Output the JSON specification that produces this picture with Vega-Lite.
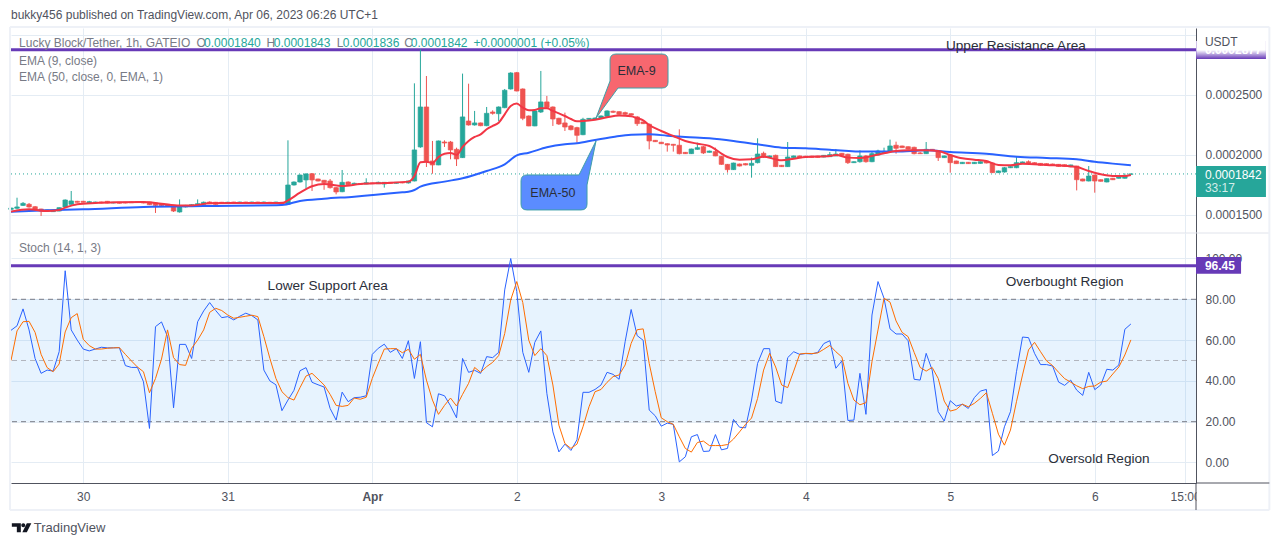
{
  "$schema": "https://vega.github.io/schema/vega-lite/v6.json",
  "background": "white",
  "padding": {"left": 7, "top": 8, "right": 2, "bottom": 2},
  "bounds": "flush",
  "spacing": 0,
  "config": {
    "view": {"stroke": null},
    "font": "Liberation Sans",
    "axis": {"title": null, "ticks": false, "labelFont": "Liberation Sans", "labelFontSize": 12, "labelColor": "#50535e", "gridColor": "#e4ecf4", "gridWidth": 1, "labelOverlap": false, "labelBound": false, "labelFlush": false}
  },
  "datasets": {
    "bars": [
      {"t":"2023-03-29T12:00Z","o":0.0001547,"h":0.000156,"l":0.0001545,"c":0.0001558,"k":64.8,"d":50},
      {"t":"2023-03-29T13:00Z","o":0.0001556,"h":0.0001644,"l":0.0001547,"c":0.0001567,"k":67,"d":64.5},
      {"t":"2023-03-29T14:00Z","o":0.000158,"h":0.0001608,"l":0.0001575,"c":0.0001597,"k":75.3,"d":69},
      {"t":"2023-03-29T15:00Z","o":0.0001589,"h":0.00016,"l":0.0001561,"c":0.0001567,"k":65,"d":69.2},
      {"t":"2023-03-29T16:00Z","o":0.0001569,"h":0.0001575,"l":0.000154,"c":0.0001544,"k":51,"d":63.8},
      {"t":"2023-03-29T17:00Z","o":0.000155,"h":0.0001552,"l":0.0001492,"c":0.0001533,"k":43.7,"d":53},
      {"t":"2023-03-29T18:00Z","o":0.0001531,"h":0.0001545,"l":0.0001525,"c":0.0001542,"k":45.3,"d":46.5},
      {"t":"2023-03-29T19:00Z","o":0.0001528,"h":0.0001542,"l":0.0001525,"c":0.0001539,"k":44.8,"d":44.5},
      {"t":"2023-03-29T20:00Z","o":0.0001533,"h":0.0001564,"l":0.000153,"c":0.0001561,"k":54.3,"d":48.3},
      {"t":"2023-03-29T21:00Z","o":0.0001567,"h":0.000163,"l":0.0001565,"c":0.0001625,"k":94,"d":64},
      {"t":"2023-03-29T22:00Z","o":0.0001589,"h":0.00017,"l":0.0001585,"c":0.0001617,"k":65,"d":71},
      {"t":"2023-03-29T23:00Z","o":0.0001614,"h":0.0001618,"l":0.0001603,"c":0.0001606,"k":60,"d":73},
      {"t":"2023-03-30T00:00Z","o":0.0001614,"h":0.0001618,"l":0.0001603,"c":0.0001606,"k":55.6,"d":60.4},
      {"t":"2023-03-30T01:00Z","o":0.0001597,"h":0.0001618,"l":0.0001592,"c":0.0001611,"k":54.7,"d":57.3},
      {"t":"2023-03-30T02:00Z","o":0.00016,"h":0.0001612,"l":0.0001597,"c":0.0001608,"k":55.6,"d":55.6},
      {"t":"2023-03-30T03:00Z","o":0.0001608,"h":0.0001611,"l":0.0001597,"c":0.00016,"k":56.5,"d":55.6},
      {"t":"2023-03-30T04:00Z","o":0.0001614,"h":0.0001617,"l":0.0001597,"c":0.00016,"k":56.2,"d":56},
      {"t":"2023-03-30T05:00Z","o":0.00016,"h":0.0001609,"l":0.0001597,"c":0.0001606,"k":56.2,"d":56.2},
      {"t":"2023-03-30T06:00Z","o":0.0001606,"h":0.0001609,"l":0.0001595,"c":0.0001598,"k":56.3,"d":56.3},
      {"t":"2023-03-30T07:00Z","o":0.0001606,"h":0.0001609,"l":0.0001597,"c":0.00016,"k":47.5,"d":53},
      {"t":"2023-03-30T08:00Z","o":0.0001608,"h":0.000161,"l":0.00016,"c":0.0001602,"k":46.6,"d":49.8},
      {"t":"2023-03-30T09:00Z","o":0.000161,"h":0.0001612,"l":0.0001601,"c":0.0001604,"k":46.6,"d":46.8},
      {"t":"2023-03-30T10:00Z","o":0.0001608,"h":0.000161,"l":0.0001597,"c":0.00016,"k":39.6,"d":44.5},
      {"t":"2023-03-30T11:00Z","o":0.0001608,"h":0.000161,"l":0.0001583,"c":0.0001586,"k":16.7,"d":34.2},
      {"t":"2023-03-30T12:00Z","o":0.00016,"h":0.0001605,"l":0.0001517,"c":0.000158,"k":66.6,"d":41.2},
      {"t":"2023-03-30T13:00Z","o":0.0001594,"h":0.0001597,"l":0.0001575,"c":0.0001578,"k":68.9,"d":50.7},
      {"t":"2023-03-30T14:00Z","o":0.0001589,"h":0.0001592,"l":0.000157,"c":0.0001572,"k":61.7,"d":65},
      {"t":"2023-03-30T15:00Z","o":0.000158,"h":0.0001583,"l":0.0001525,"c":0.0001533,"k":26.8,"d":51.4},
      {"t":"2023-03-30T16:00Z","o":0.0001525,"h":0.000163,"l":0.000152,"c":0.0001567,"k":57.9,"d":48},
      {"t":"2023-03-30T17:00Z","o":0.0001567,"h":0.0001584,"l":0.0001563,"c":0.000158,"k":57.9,"d":47.6},
      {"t":"2023-03-30T18:00Z","o":0.0001578,"h":0.000159,"l":0.0001575,"c":0.0001586,"k":51,"d":56},
      {"t":"2023-03-30T19:00Z","o":0.0001583,"h":0.000163,"l":0.000158,"c":0.0001594,"k":69,"d":60},
      {"t":"2023-03-30T20:00Z","o":0.0001589,"h":0.0001612,"l":0.0001586,"c":0.0001606,"k":74.3,"d":65},
      {"t":"2023-03-30T21:00Z","o":0.0001608,"h":0.0001614,"l":0.0001591,"c":0.0001594,"k":78.4,"d":73.6},
      {"t":"2023-03-30T22:00Z","o":0.0001606,"h":0.0001609,"l":0.0001586,"c":0.0001589,"k":74.5,"d":75.6},
      {"t":"2023-03-30T23:00Z","o":0.0001606,"h":0.0001609,"l":0.0001594,"c":0.0001597,"k":71,"d":74.5},
      {"t":"2023-03-31T00:00Z","o":0.00016,"h":0.000161,"l":0.0001597,"c":0.0001606,"k":71.5,"d":72.3},
      {"t":"2023-03-31T01:00Z","o":0.0001608,"h":0.000161,"l":0.0001597,"c":0.00016,"k":69.9,"d":70.7},
      {"t":"2023-03-31T02:00Z","o":0.00016,"h":0.0001611,"l":0.0001598,"c":0.0001608,"k":71.7,"d":71.2},
      {"t":"2023-03-31T03:00Z","o":0.0001608,"h":0.000161,"l":0.0001598,"c":0.0001601,"k":73.2,"d":71.7},
      {"t":"2023-03-31T04:00Z","o":0.0001601,"h":0.0001611,"l":0.0001598,"c":0.0001608,"k":72,"d":72.2},
      {"t":"2023-03-31T05:00Z","o":0.0001608,"h":0.000161,"l":0.0001597,"c":0.00016,"k":69.9,"d":71.5},
      {"t":"2023-03-31T06:00Z","o":0.00016,"h":0.0001612,"l":0.0001598,"c":0.0001608,"k":45.3,"d":61.7},
      {"t":"2023-03-31T07:00Z","o":0.0001606,"h":0.0001609,"l":0.0001597,"c":0.00016,"k":40,"d":51},
      {"t":"2023-03-31T08:00Z","o":0.0001601,"h":0.000161,"l":0.0001597,"c":0.0001608,"k":38.1,"d":41.2},
      {"t":"2023-03-31T09:00Z","o":0.0001606,"h":0.0001609,"l":0.0001586,"c":0.0001589,"k":25.4,"d":34.7},
      {"t":"2023-03-31T10:00Z","o":0.0001589,"h":0.0002122,"l":0.0001583,"c":0.000175,"k":30.6,"d":31.8},
      {"t":"2023-03-31T11:00Z","o":0.000175,"h":0.000178,"l":0.0001745,"c":0.0001775,"k":35.4,"d":30.6},
      {"t":"2023-03-31T12:00Z","o":0.0001775,"h":0.0001837,"l":0.000177,"c":0.0001833,"k":45,"d":36.7},
      {"t":"2023-03-31T13:00Z","o":0.0001792,"h":0.0001848,"l":0.0001719,"c":0.0001842,"k":46.5,"d":42.4},
      {"t":"2023-03-31T14:00Z","o":0.0001844,"h":0.000185,"l":0.00017,"c":0.0001792,"k":39.3,"d":43.7},
      {"t":"2023-03-31T15:00Z","o":0.00018,"h":0.0001803,"l":0.000178,"c":0.0001783,"k":38.1,"d":40.9},
      {"t":"2023-03-31T16:00Z","o":0.0001789,"h":0.0001792,"l":0.000171,"c":0.0001769,"k":37,"d":38},
      {"t":"2023-03-31T17:00Z","o":0.0001783,"h":0.00018,"l":0.000172,"c":0.0001728,"k":26.5,"d":33.4},
      {"t":"2023-03-31T18:00Z","o":0.0001728,"h":0.0001733,"l":0.0001672,"c":0.0001692,"k":20.8,"d":28},
      {"t":"2023-03-31T19:00Z","o":0.0001694,"h":0.0001875,"l":0.000169,"c":0.0001772,"k":34.5,"d":27.5},
      {"t":"2023-03-31T20:00Z","o":0.0001775,"h":0.000178,"l":0.000175,"c":0.0001753,"k":29.8,"d":28},
      {"t":"2023-03-31T21:00Z","o":0.0001756,"h":0.000177,"l":0.000175,"c":0.0001764,"k":31.8,"d":31.6},
      {"t":"2023-03-31T22:00Z","o":0.0001762,"h":0.0001765,"l":0.0001753,"c":0.0001756,"k":32,"d":31},
      {"t":"2023-03-31T23:00Z","o":0.0001758,"h":0.0001806,"l":0.0001756,"c":0.0001769,"k":32.7,"d":32},
      {"t":"2023-04-01T00:00Z","o":0.0001767,"h":0.000177,"l":0.0001758,"c":0.0001761,"k":53,"d":41.2},
      {"t":"2023-04-01T01:00Z","o":0.0001761,"h":0.0001778,"l":0.0001758,"c":0.0001772,"k":56,"d":48.6},
      {"t":"2023-04-01T02:00Z","o":0.0001758,"h":0.0001775,"l":0.0001728,"c":0.0001772,"k":58,"d":55.6},
      {"t":"2023-04-01T03:00Z","o":0.0001772,"h":0.0001775,"l":0.0001761,"c":0.0001764,"k":54,"d":55.8},
      {"t":"2023-04-01T04:00Z","o":0.0001764,"h":0.0001775,"l":0.0001761,"c":0.0001772,"k":55.8,"d":55.8},
      {"t":"2023-04-01T05:00Z","o":0.0001772,"h":0.0001775,"l":0.0001764,"c":0.0001767,"k":51,"d":53.8},
      {"t":"2023-04-01T06:00Z","o":0.0001767,"h":0.0001786,"l":0.0001762,"c":0.0001783,"k":59.7,"d":55.5},
      {"t":"2023-04-01T07:00Z","o":0.0001783,"h":0.0002597,"l":0.000178,"c":0.0002042,"k":41.2,"d":50.6},
      {"t":"2023-04-01T08:00Z","o":0.0002067,"h":0.000288,"l":0.000206,"c":0.00024,"k":59.2,"d":53},
      {"t":"2023-04-01T09:00Z","o":0.00024,"h":0.0002658,"l":0.00019,"c":0.0001944,"k":19.5,"d":40.4},
      {"t":"2023-04-01T10:00Z","o":0.000195,"h":0.0002117,"l":0.0001844,"c":0.0001917,"k":17.5,"d":30.6},
      {"t":"2023-04-01T11:00Z","o":0.0001917,"h":0.000212,"l":0.0001915,"c":0.0002117,"k":33.7,"d":23.6},
      {"t":"2023-04-01T12:00Z","o":0.0002108,"h":0.0002122,"l":0.0002067,"c":0.00021,"k":32.7,"d":28},
      {"t":"2023-04-01T13:00Z","o":0.0002108,"h":0.0002117,"l":0.0001964,"c":0.0002042,"k":27.8,"d":31.6},
      {"t":"2023-04-01T14:00Z","o":0.0002047,"h":0.0002061,"l":0.0001908,"c":0.0001967,"k":21.9,"d":27.7},
      {"t":"2023-04-01T15:00Z","o":0.0001978,"h":0.0002678,"l":0.0001975,"c":0.0002317,"k":51,"d":33.4},
      {"t":"2023-04-01T16:00Z","o":0.0002283,"h":0.0002594,"l":0.0002245,"c":0.000225,"k":44.2,"d":38.8},
      {"t":"2023-04-01T17:00Z","o":0.000225,"h":0.0002367,"l":0.0002245,"c":0.0002267,"k":45.2,"d":46.6},
      {"t":"2023-04-01T18:00Z","o":0.0002267,"h":0.000227,"l":0.000224,"c":0.0002244,"k":43.7,"d":44.2},
      {"t":"2023-04-01T19:00Z","o":0.0002244,"h":0.00024,"l":0.000224,"c":0.0002347,"k":51.9,"d":47},
      {"t":"2023-04-01T20:00Z","o":0.0002358,"h":0.0002372,"l":0.0002336,"c":0.0002347,"k":51.4,"d":49.1},
      {"t":"2023-04-01T21:00Z","o":0.0002344,"h":0.0002405,"l":0.0002283,"c":0.00024,"k":54,"d":52.4},
      {"t":"2023-04-01T22:00Z","o":0.0002394,"h":0.000255,"l":0.000239,"c":0.0002539,"k":84.6,"d":63.2},
      {"t":"2023-04-01T23:00Z","o":0.000255,"h":0.000269,"l":0.0002545,"c":0.0002683,"k":100,"d":79.7},
      {"t":"2023-04-02T00:00Z","o":0.0002686,"h":0.0002692,"l":0.000253,"c":0.0002533,"k":83.8,"d":88.7},
      {"t":"2023-04-02T01:00Z","o":0.000255,"h":0.0002555,"l":0.000229,"c":0.0002306,"k":54,"d":78.4},
      {"t":"2023-04-02T02:00Z","o":0.0002325,"h":0.000233,"l":0.000224,"c":0.0002242,"k":44.2,"d":59.9},
      {"t":"2023-04-02T03:00Z","o":0.0002242,"h":0.0002372,"l":0.000224,"c":0.0002367,"k":58.9,"d":52.4},
      {"t":"2023-04-02T04:00Z","o":0.0002358,"h":0.00027,"l":0.000235,"c":0.0002442,"k":64.5,"d":55.8},
      {"t":"2023-04-02T05:00Z","o":0.0002442,"h":0.0002492,"l":0.0002385,"c":0.0002394,"k":33.9,"d":52.4},
      {"t":"2023-04-02T06:00Z","o":0.00024,"h":0.0002405,"l":0.0002242,"c":0.00023,"k":15,"d":38},
      {"t":"2023-04-02T07:00Z","o":0.0002306,"h":0.000231,"l":0.000225,"c":0.0002258,"k":5.2,"d":18.3},
      {"t":"2023-04-02T08:00Z","o":0.0002267,"h":0.0002353,"l":0.00022,"c":0.0002233,"k":9,"d":9.3},
      {"t":"2023-04-02T09:00Z","o":0.0002242,"h":0.000225,"l":0.0002205,"c":0.0002211,"k":5.9,"d":6.9},
      {"t":"2023-04-02T10:00Z","o":0.0002228,"h":0.0002235,"l":0.0002103,"c":0.0002164,"k":11.1,"d":9},
      {"t":"2023-04-02T11:00Z","o":0.0002169,"h":0.000231,"l":0.0002165,"c":0.0002297,"k":34.4,"d":17.5},
      {"t":"2023-04-02T12:00Z","o":0.0002297,"h":0.0002308,"l":0.000229,"c":0.0002305,"k":34.4,"d":27.3},
      {"t":"2023-04-02T13:00Z","o":0.00023,"h":0.0002312,"l":0.0002295,"c":0.0002308,"k":35.8,"d":34.7},
      {"t":"2023-04-02T14:00Z","o":0.0002306,"h":0.000233,"l":0.00023,"c":0.0002325,"k":38,"d":35.8},
      {"t":"2023-04-02T15:00Z","o":0.0002322,"h":0.0002372,"l":0.0002318,"c":0.0002367,"k":44.2,"d":39.3},
      {"t":"2023-04-02T16:00Z","o":0.0002364,"h":0.000237,"l":0.000235,"c":0.0002356,"k":43.2,"d":42.1},
      {"t":"2023-04-02T17:00Z","o":0.0002361,"h":0.0002364,"l":0.000233,"c":0.0002339,"k":40.8,"d":42.9},
      {"t":"2023-04-02T18:00Z","o":0.0002353,"h":0.0002361,"l":0.000233,"c":0.0002339,"k":59.2,"d":47.8},
      {"t":"2023-04-02T19:00Z","o":0.0002344,"h":0.0002347,"l":0.000233,"c":0.0002333,"k":75,"d":58.4},
      {"t":"2023-04-02T20:00Z","o":0.0002317,"h":0.0002325,"l":0.0002242,"c":0.0002261,"k":62.2,"d":65.1},
      {"t":"2023-04-02T21:00Z","o":0.0002275,"h":0.0002278,"l":0.0002258,"c":0.0002261,"k":59.9,"d":65.5},
      {"t":"2023-04-02T22:00Z","o":0.0002256,"h":0.0002262,"l":0.0002047,"c":0.0002117,"k":25.7,"d":48.6},
      {"t":"2023-04-02T23:00Z","o":0.0002122,"h":0.0002125,"l":0.0002108,"c":0.0002111,"k":22.9,"d":34.7},
      {"t":"2023-04-03T00:00Z","o":0.0002106,"h":0.0002109,"l":0.0002092,"c":0.0002094,"k":17.8,"d":21.9},
      {"t":"2023-04-03T01:00Z","o":0.0002094,"h":0.0002097,"l":0.0002028,"c":0.0002083,"k":19.3,"d":20},
      {"t":"2023-04-03T02:00Z","o":0.0002089,"h":0.0002092,"l":0.0002028,"c":0.0002081,"k":18.7,"d":18.7},
      {"t":"2023-04-03T03:00Z","o":0.0002081,"h":0.0002214,"l":0.0002005,"c":0.0002011,"k":0.3,"d":12.6},
      {"t":"2023-04-03T04:00Z","o":0.0002022,"h":0.0002025,"l":0.0002008,"c":0.0002011,"k":2.8,"d":6.9},
      {"t":"2023-04-03T05:00Z","o":0.0002011,"h":0.0002053,"l":0.0002008,"c":0.000205,"k":12.6,"d":5.1},
      {"t":"2023-04-03T06:00Z","o":0.0002047,"h":0.0002103,"l":0.0002044,"c":0.0002061,"k":13.7,"d":9.8},
      {"t":"2023-04-03T07:00Z","o":0.0002069,"h":0.0002075,"l":0.0002008,"c":0.0002017,"k":5.4,"d":10.5},
      {"t":"2023-04-03T08:00Z","o":0.0002022,"h":0.0002036,"l":0.000202,"c":0.0002033,"k":5.6,"d":8.3},
      {"t":"2023-04-03T09:00Z","o":0.0002028,"h":0.0002061,"l":0.000199,"c":0.0001992,"k":13.7,"d":8.3},
      {"t":"2023-04-03T10:00Z","o":0.0001989,"h":0.0001992,"l":0.0001918,"c":0.0001922,"k":6.2,"d":8.3},
      {"t":"2023-04-03T11:00Z","o":0.0001922,"h":0.0001925,"l":0.0001853,"c":0.0001878,"k":6.9,"d":8.8},
      {"t":"2023-04-03T12:00Z","o":0.0001878,"h":0.0001936,"l":0.0001875,"c":0.0001933,"k":21.1,"d":11.5},
      {"t":"2023-04-03T13:00Z","o":0.0001925,"h":0.0001928,"l":0.0001905,"c":0.0001908,"k":17.3,"d":15},
      {"t":"2023-04-03T14:00Z","o":0.0001928,"h":0.0001931,"l":0.0001914,"c":0.0001917,"k":17,"d":18.7},
      {"t":"2023-04-03T15:00Z","o":0.0001914,"h":0.0001978,"l":0.0001811,"c":0.0001931,"k":30.6,"d":21.8},
      {"t":"2023-04-03T16:00Z","o":0.0001936,"h":0.0002139,"l":0.000193,"c":0.0002008,"k":48.6,"d":31.4},
      {"t":"2023-04-03T17:00Z","o":0.0002014,"h":0.0002028,"l":0.0001975,"c":0.0001983,"k":55.8,"d":45.3},
      {"t":"2023-04-03T18:00Z","o":0.000198,"h":0.0001995,"l":0.0001977,"c":0.0001992,"k":55.8,"d":53.5},
      {"t":"2023-04-03T19:00Z","o":0.0001997,"h":0.0002003,"l":0.00019,"c":0.0001903,"k":30.1,"d":46.8},
      {"t":"2023-04-03T20:00Z","o":0.0001914,"h":0.0001917,"l":0.00019,"c":0.0001903,"k":29,"d":38},
      {"t":"2023-04-03T21:00Z","o":0.0001903,"h":0.0002108,"l":0.00019,"c":0.0001983,"k":51.4,"d":36.7},
      {"t":"2023-04-03T22:00Z","o":0.0001978,"h":0.0001995,"l":0.0001975,"c":0.0001992,"k":54.3,"d":44.8},
      {"t":"2023-04-03T23:00Z","o":0.0001992,"h":0.0001995,"l":0.0001975,"c":0.0001978,"k":53,"d":53.2},
      {"t":"2023-04-04T00:00Z","o":0.000199,"h":0.0001993,"l":0.0001977,"c":0.000198,"k":53.4,"d":53.5},
      {"t":"2023-04-04T01:00Z","o":0.000199,"h":0.0001993,"l":0.0001977,"c":0.000198,"k":53.2,"d":53.4},
      {"t":"2023-04-04T02:00Z","o":0.000199,"h":0.0001993,"l":0.0001977,"c":0.000198,"k":54,"d":53.7},
      {"t":"2023-04-04T03:00Z","o":0.0001983,"h":0.0002,"l":0.000198,"c":0.0001997,"k":58.3,"d":55.5},
      {"t":"2023-04-04T04:00Z","o":0.0001986,"h":0.0002025,"l":0.0001983,"c":0.0002003,"k":59.7,"d":57.4},
      {"t":"2023-04-04T05:00Z","o":0.0001992,"h":0.000205,"l":0.000199,"c":0.0002008,"k":46.2,"d":54.3},
      {"t":"2023-04-04T06:00Z","o":0.0002014,"h":0.0002017,"l":0.0001994,"c":0.0001997,"k":49.8,"d":51.7},
      {"t":"2023-04-04T07:00Z","o":0.0002006,"h":0.0002011,"l":0.0001925,"c":0.0001936,"k":20.6,"d":38.8},
      {"t":"2023-04-04T08:00Z","o":0.0001936,"h":0.0001947,"l":0.0001933,"c":0.0001944,"k":20.8,"d":30.6},
      {"t":"2023-04-04T09:00Z","o":0.0001944,"h":0.0002039,"l":0.0001936,"c":0.0001992,"k":43.7,"d":28.3},
      {"t":"2023-04-04T10:00Z","o":0.0001992,"h":0.0002,"l":0.0001936,"c":0.0001944,"k":23.6,"d":29.3},
      {"t":"2023-04-04T11:00Z","o":0.0001944,"h":0.0002025,"l":0.000194,"c":0.0002011,"k":72.3,"d":49.4},
      {"t":"2023-04-04T12:00Z","o":0.0002,"h":0.0002044,"l":0.0001995,"c":0.0002033,"k":88.7,"d":65},
      {"t":"2023-04-04T13:00Z","o":0.0002017,"h":0.0002061,"l":0.000201,"c":0.000203,"k":80.5,"d":80.5},
      {"t":"2023-04-04T14:00Z","o":0.0002028,"h":0.0002128,"l":0.0002022,"c":0.0002075,"k":65.5,"d":78.6},
      {"t":"2023-04-04T15:00Z","o":0.0002081,"h":0.0002111,"l":0.0002011,"c":0.0002056,"k":63,"d":69.4},
      {"t":"2023-04-04T16:00Z","o":0.0002075,"h":0.0002078,"l":0.0002058,"c":0.0002061,"k":63,"d":63.8},
      {"t":"2023-04-04T17:00Z","o":0.0002069,"h":0.0002072,"l":0.0002047,"c":0.000205,"k":59.7,"d":61.7},
      {"t":"2023-04-04T18:00Z","o":0.0002064,"h":0.0002069,"l":0.0002005,"c":0.0002011,"k":40.8,"d":54},
      {"t":"2023-04-04T19:00Z","o":0.0002017,"h":0.0002025,"l":0.0002008,"c":0.0002011,"k":40.4,"d":46.6},
      {"t":"2023-04-04T20:00Z","o":0.0002011,"h":0.0002108,"l":0.0002008,"c":0.0002047,"k":53.5,"d":44.8},
      {"t":"2023-04-04T21:00Z","o":0.0002047,"h":0.000205,"l":0.0002036,"c":0.0002039,"k":45.3,"d":46.6},
      {"t":"2023-04-04T22:00Z","o":0.0002033,"h":0.0002039,"l":0.000195,"c":0.0001978,"k":24.9,"d":41.2},
      {"t":"2023-04-04T23:00Z","o":0.0001978,"h":0.0001995,"l":0.0001975,"c":0.0001992,"k":20.3,"d":30.1},
      {"t":"2023-04-05T00:00Z","o":0.0002,"h":0.0002006,"l":0.0001853,"c":0.0001936,"k":30.3,"d":25.2},
      {"t":"2023-04-05T01:00Z","o":0.000195,"h":0.0001953,"l":0.0001925,"c":0.0001928,"k":27.7,"d":26},
      {"t":"2023-04-05T02:00Z","o":0.0001928,"h":0.0001942,"l":0.0001925,"c":0.0001939,"k":28.5,"d":28.6},
      {"t":"2023-04-05T03:00Z","o":0.0001939,"h":0.0001942,"l":0.0001925,"c":0.0001928,"k":26.5,"d":27.3},
      {"t":"2023-04-05T04:00Z","o":0.0001928,"h":0.0001942,"l":0.0001925,"c":0.0001939,"k":31.8,"d":29},
      {"t":"2023-04-05T05:00Z","o":0.000193,"h":0.0001947,"l":0.0001927,"c":0.0001944,"k":35,"d":31.4},
      {"t":"2023-04-05T06:00Z","o":0.0001949,"h":0.0001952,"l":0.000193,"c":0.0001933,"k":35.8,"d":34.2},
      {"t":"2023-04-05T07:00Z","o":0.0001933,"h":0.0001936,"l":0.000185,"c":0.0001853,"k":3.4,"d":24.1},
      {"t":"2023-04-05T08:00Z","o":0.0001853,"h":0.000187,"l":0.000185,"c":0.0001867,"k":5.6,"d":13.9},
      {"t":"2023-04-05T09:00Z","o":0.0001858,"h":0.00019,"l":0.0001853,"c":0.0001894,"k":17.5,"d":8.5},
      {"t":"2023-04-05T10:00Z","o":0.0001894,"h":0.0001906,"l":0.0001891,"c":0.0001903,"k":24.9,"d":15.9},
      {"t":"2023-04-05T11:00Z","o":0.0001894,"h":0.0001983,"l":0.000189,"c":0.0001936,"k":44.5,"d":29.8},
      {"t":"2023-04-05T12:00Z","o":0.0001928,"h":0.0001945,"l":0.0001925,"c":0.0001942,"k":61.5,"d":42.9},
      {"t":"2023-04-05T13:00Z","o":0.0001944,"h":0.0001955,"l":0.0001927,"c":0.000193,"k":61.2,"d":55.2},
      {"t":"2023-04-05T14:00Z","o":0.0001936,"h":0.0001939,"l":0.0001919,"c":0.0001922,"k":53.5,"d":58.9},
      {"t":"2023-04-05T15:00Z","o":0.000193,"h":0.0001933,"l":0.0001911,"c":0.0001914,"k":48,"d":54.3},
      {"t":"2023-04-05T16:00Z","o":0.0001928,"h":0.0001931,"l":0.0001911,"c":0.0001914,"k":48,"d":49.8},
      {"t":"2023-04-05T17:00Z","o":0.0001925,"h":0.0001928,"l":0.0001911,"c":0.0001914,"k":47.3,"d":47.5},
      {"t":"2023-04-05T18:00Z","o":0.0001922,"h":0.0001925,"l":0.0001902,"c":0.0001905,"k":39.4,"d":44.2},
      {"t":"2023-04-05T19:00Z","o":0.0001919,"h":0.0001922,"l":0.0001902,"c":0.0001905,"k":37.8,"d":41.1},
      {"t":"2023-04-05T20:00Z","o":0.0001903,"h":0.0001919,"l":0.00019,"c":0.0001917,"k":40.4,"d":39.4},
      {"t":"2023-04-05T21:00Z","o":0.0001908,"h":0.000191,"l":0.0001705,"c":0.0001794,"k":35.5,"d":37.6},
      {"t":"2023-04-05T22:00Z","o":0.00018,"h":0.0001803,"l":0.000178,"c":0.0001783,"k":32.9,"d":36.2},
      {"t":"2023-04-05T23:00Z","o":0.0001783,"h":0.0001908,"l":0.000178,"c":0.0001825,"k":44.2,"d":37.3},
      {"t":"2023-04-06T00:00Z","o":0.0001833,"h":0.0001836,"l":0.0001686,"c":0.0001783,"k":35.7,"d":37.5},
      {"t":"2023-04-06T01:00Z","o":0.0001794,"h":0.0001797,"l":0.0001778,"c":0.0001781,"k":38,"d":39.4},
      {"t":"2023-04-06T02:00Z","o":0.0001775,"h":0.0001806,"l":0.0001772,"c":0.0001803,"k":45.7,"d":39.9},
      {"t":"2023-04-06T03:00Z","o":0.0001806,"h":0.0001809,"l":0.0001791,"c":0.0001794,"k":45.3,"d":43.4},
      {"t":"2023-04-06T04:00Z","o":0.0001806,"h":0.000182,"l":0.0001803,"c":0.0001817,"k":47.8,"d":46.8},
      {"t":"2023-04-06T05:00Z","o":0.0001806,"h":0.0001847,"l":0.0001803,"c":0.0001828,"k":65.3,"d":52.7},
      {"t":"2023-04-06T06:00Z","o":0.000184,"h":0.0001843,"l":0.0001836,"c":0.0001842,"k":67.9,"d":60.1}
    ],
    "ema9": [
      {"t":"2023-03-29T12:00Z","v":0.0001528},{"t":"2023-03-29T15:00Z","v":0.0001547},{"t":"2023-03-29T18:00Z","v":0.0001533},{"t":"2023-03-29T20:00Z","v":0.0001542},{"t":"2023-03-29T21:00Z","v":0.0001561},{"t":"2023-03-29T23:00Z","v":0.0001589},
      {"t":"2023-03-30T02:00Z","v":0.00016},{"t":"2023-03-30T06:00Z","v":0.0001606},{"t":"2023-03-30T10:00Z","v":0.0001608},{"t":"2023-03-30T13:00Z","v":0.0001594},{"t":"2023-03-30T16:00Z","v":0.000158},{"t":"2023-03-30T18:00Z","v":0.000158},{"t":"2023-03-30T21:00Z","v":0.0001597},
      {"t":"2023-03-31T01:00Z","v":0.00016},{"t":"2023-03-31T09:00Z","v":0.00016},{"t":"2023-03-31T10:00Z","v":0.0001622},{"t":"2023-03-31T12:00Z","v":0.0001686},{"t":"2023-03-31T14:00Z","v":0.0001739},{"t":"2023-03-31T16:00Z","v":0.0001758},{"t":"2023-03-31T19:00Z","v":0.0001742},{"t":"2023-03-31T22:00Z","v":0.0001758},
      {"t":"2023-04-01T02:00Z","v":0.0001767},{"t":"2023-04-01T06:00Z","v":0.0001778},{"t":"2023-04-01T07:00Z","v":0.0001825},{"t":"2023-04-01T08:00Z","v":0.0001939},{"t":"2023-04-01T09:00Z","v":0.0001944},{"t":"2023-04-01T10:00Z","v":0.0001933},{"t":"2023-04-01T11:00Z","v":0.0001983},{"t":"2023-04-01T12:00Z","v":0.0002011},{"t":"2023-04-01T13:00Z","v":0.0002017},{"t":"2023-04-01T14:00Z","v":0.0002},{"t":"2023-04-01T15:00Z","v":0.0002067},{"t":"2023-04-01T16:00Z","v":0.0002117},{"t":"2023-04-01T17:00Z","v":0.000215},{"t":"2023-04-01T18:00Z","v":0.0002172},{"t":"2023-04-01T19:00Z","v":0.0002214},{"t":"2023-04-01T20:00Z","v":0.0002242},{"t":"2023-04-01T21:00Z","v":0.0002269},{"t":"2023-04-01T22:00Z","v":0.0002339},{"t":"2023-04-01T23:00Z","v":0.0002408},
      {"t":"2023-04-02T00:00Z","v":0.0002428},{"t":"2023-04-02T01:00Z","v":0.0002394},{"t":"2023-04-02T02:00Z","v":0.0002372},{"t":"2023-04-02T03:00Z","v":0.0002375},{"t":"2023-04-02T04:00Z","v":0.0002389},{"t":"2023-04-02T05:00Z","v":0.0002389},{"t":"2023-04-02T06:00Z","v":0.0002367},{"t":"2023-04-02T07:00Z","v":0.0002347},{"t":"2023-04-02T08:00Z","v":0.0002325},{"t":"2023-04-02T09:00Z","v":0.00023},{"t":"2023-04-02T10:00Z","v":0.0002281},{"t":"2023-04-02T11:00Z","v":0.0002283},{"t":"2023-04-02T13:00Z","v":0.0002294},{"t":"2023-04-02T15:00Z","v":0.0002314},{"t":"2023-04-02T17:00Z","v":0.0002328},{"t":"2023-04-02T19:00Z","v":0.0002322},{"t":"2023-04-02T20:00Z","v":0.0002306},{"t":"2023-04-02T21:00Z","v":0.0002289},{"t":"2023-04-02T22:00Z","v":0.000225},
      {"t":"2023-04-03T00:00Z","v":0.00022},{"t":"2023-04-03T02:00Z","v":0.0002158},{"t":"2023-04-03T04:00Z","v":0.0002117},{"t":"2023-04-03T06:00Z","v":0.0002094},{"t":"2023-04-03T08:00Z","v":0.0002075},{"t":"2023-04-03T09:00Z","v":0.0002047},{"t":"2023-04-03T10:00Z","v":0.0002011},{"t":"2023-04-03T11:00Z","v":0.0001983},{"t":"2023-04-03T13:00Z","v":0.0001961},{"t":"2023-04-03T15:00Z","v":0.0001964},{"t":"2023-04-03T17:00Z","v":0.0001986},{"t":"2023-04-03T19:00Z","v":0.0001964},{"t":"2023-04-03T20:00Z","v":0.0001956},{"t":"2023-04-03T22:00Z","v":0.0001969},
      {"t":"2023-04-04T00:00Z","v":0.0001983},{"t":"2023-04-04T04:00Z","v":0.0001992},{"t":"2023-04-04T05:00Z","v":0.0002},{"t":"2023-04-04T07:00Z","v":0.0001978},{"t":"2023-04-04T09:00Z","v":0.0001975},{"t":"2023-04-04T11:00Z","v":0.0001992},{"t":"2023-04-04T13:00Z","v":0.0002014},{"t":"2023-04-04T15:00Z","v":0.0002033},{"t":"2023-04-04T17:00Z","v":0.0002039},{"t":"2023-04-04T20:00Z","v":0.0002039},{"t":"2023-04-04T22:00Z","v":0.0002033},
      {"t":"2023-04-05T00:00Z","v":0.0002},{"t":"2023-04-05T02:00Z","v":0.0001972},{"t":"2023-04-05T04:00Z","v":0.0001961},{"t":"2023-04-05T06:00Z","v":0.000195},{"t":"2023-04-05T08:00Z","v":0.0001917},{"t":"2023-04-05T10:00Z","v":0.0001914},{"t":"2023-04-05T12:00Z","v":0.0001928},{"t":"2023-04-05T16:00Z","v":0.0001917},{"t":"2023-04-05T20:00Z","v":0.0001905},{"t":"2023-04-05T21:00Z","v":0.00019},{"t":"2023-04-05T23:00Z","v":0.0001867},
      {"t":"2023-04-06T01:00Z","v":0.0001839},{"t":"2023-04-06T03:00Z","v":0.0001825},{"t":"2023-04-06T05:00Z","v":0.0001825},{"t":"2023-04-06T06:00Z","v":0.0001833}
    ],
    "ema50": [
      {"t":"2023-03-29T12:00Z","v":0.0001528},{"t":"2023-03-29T18:00Z","v":0.0001539},{"t":"2023-03-30T00:00Z","v":0.0001547},{"t":"2023-03-30T10:00Z","v":0.0001567},{"t":"2023-03-30T20:00Z","v":0.0001575},{"t":"2023-03-31T09:00Z","v":0.0001583},{"t":"2023-03-31T12:00Z","v":0.0001617},{"t":"2023-03-31T16:00Z","v":0.0001636},{"t":"2023-03-31T21:00Z","v":0.0001653},
      {"t":"2023-04-01T05:00Z","v":0.0001689},{"t":"2023-04-01T06:00Z","v":0.0001694},{"t":"2023-04-01T07:00Z","v":0.0001708},{"t":"2023-04-01T08:00Z","v":0.0001736},{"t":"2023-04-01T12:00Z","v":0.0001778},{"t":"2023-04-01T15:00Z","v":0.0001806},{"t":"2023-04-01T19:00Z","v":0.0001867},{"t":"2023-04-01T22:00Z","v":0.0001922},
      {"t":"2023-04-02T00:00Z","v":0.0001997},{"t":"2023-04-02T02:00Z","v":0.0002019},{"t":"2023-04-02T05:00Z","v":0.0002064},{"t":"2023-04-02T08:00Z","v":0.0002089},{"t":"2023-04-02T10:00Z","v":0.0002097},{"t":"2023-04-02T13:00Z","v":0.0002125},{"t":"2023-04-02T16:00Z","v":0.000215},{"t":"2023-04-02T19:00Z","v":0.0002169},{"t":"2023-04-02T22:00Z","v":0.0002172},
      {"t":"2023-04-03T01:00Z","v":0.0002161},{"t":"2023-04-03T04:00Z","v":0.000215},{"t":"2023-04-03T08:00Z","v":0.0002139},{"t":"2023-04-03T12:00Z","v":0.0002117},{"t":"2023-04-03T16:00Z","v":0.0002089},{"t":"2023-04-03T20:00Z","v":0.0002061},
      {"t":"2023-04-04T00:00Z","v":0.0002056},{"t":"2023-04-04T04:00Z","v":0.0002044},{"t":"2023-04-04T10:00Z","v":0.0002028},{"t":"2023-04-04T15:00Z","v":0.0002028},{"t":"2023-04-04T20:00Z","v":0.0002039},
      {"t":"2023-04-05T00:00Z","v":0.0002025},{"t":"2023-04-05T06:00Z","v":0.0002011},{"t":"2023-04-05T11:00Z","v":0.0001986},{"t":"2023-04-05T16:00Z","v":0.0001975},{"t":"2023-04-05T21:00Z","v":0.0001964},
      {"t":"2023-04-06T00:00Z","v":0.0001944},{"t":"2023-04-06T03:00Z","v":0.0001928},{"t":"2023-04-06T06:00Z","v":0.0001914}
    ]
  },
  "vconcat": [
    {
      "width": 1185,
      "height": 205,
      "layer": [
        {
          "data": {"values": [{"level": 0.0001842}]},
          "mark": {"type": "rule", "color": "#26a69a", "strokeWidth": 1, "strokeDash": [1, 3]},
          "encoding": {
            "y": {"field": "level", "type": "quantitative", "scale": {"domain": [0.000135, 0.0003058], "zero": false, "nice": false},
              "axis": {"orient": "right", "values": [0.00015, 0.0002, 0.00025, 0.0003], "labelExpr": "datum.value > 0.00028 ? '' : format(datum.value, '.7f')", "labelPadding": 9, "domainColor": "#50535e", "grid": true}}
          }
        },
        {
          "data": {"values": [{"level": 0.0002877}]},
          "mark": {"type": "rule", "color": "#673ab7", "strokeWidth": 3},
          "encoding": {"y": {"field": "level", "type": "quantitative"}}
        },
        {
          "data": {"name": "bars"},
          "mark": {"type": "rule", "strokeWidth": 1},
          "encoding": {
            "x": {"field": "t", "type": "temporal", "scale": {"type": "utc", "domain": [1680091200000, 1680799740000], "padding": 0},
              "axis": {"values": [1680134400000, 1680220800000, 1680307200000, 1680393600000, 1680480000000, 1680566400000, 1680652800000, 1680739200000, 1680793200000], "labels": false, "domain": false, "grid": true}},
            "y": {"field": "l", "type": "quantitative"},
            "y2": {"field": "h"},
            "color": {"condition": {"test": "datum.c >= datum.o", "value": "#26a69a"}, "value": "#ef5350"}
          }
        },
        {
          "data": {"name": "bars"},
          "mark": {"type": "bar", "width": 4.5, "strokeWidth": 0.7},
          "encoding": {
            "x": {"field": "t", "type": "temporal"},
            "y": {"field": "o", "type": "quantitative"},
            "y2": {"field": "c"},
            "color": {"condition": {"test": "datum.c >= datum.o", "value": "#26a69a"}, "value": "#ef5350"},
            "stroke": {"condition": {"test": "datum.c >= datum.o", "value": "#26a69a"}, "value": "#ef5350"}
          }
        },
        {
          "data": {"name": "ema50"},
          "mark": {"type": "line", "color": "#2962ff", "strokeWidth": 2, "interpolate": "monotone"},
          "encoding": {"x": {"field": "t", "type": "temporal"}, "y": {"field": "v", "type": "quantitative"}}
        },
        {
          "data": {"name": "ema9"},
          "mark": {"type": "line", "color": "#f23645", "strokeWidth": 2, "interpolate": "monotone"},
          "encoding": {"x": {"field": "t", "type": "temporal"}, "y": {"field": "v", "type": "quantitative"}}
        },
        {
          "data": {"values": [{"t": "2023-04-02T13:10Z", "p": 0.0002308}]},
          "mark": {"type": "point", "shape": "M0 0 L14 -37 L14 -58 Q14 -64 20 -64 L66 -64 Q72 -64 72 -58 L72 -36 Q72 -30 66 -30 L22 -30 Z", "size": 4, "filled": true, "fill": "#f7676f", "fillOpacity": 1, "stroke": "#3f9fa8", "strokeWidth": 1},
          "encoding": {"x": {"field": "t", "type": "temporal"}, "y": {"field": "p", "type": "quantitative"}}
        },
        {
          "data": {"values": [{"t": "2023-04-02T13:10Z", "p": 0.0002117}]},
          "mark": {"type": "point", "shape": "M0 0 L-9 44 L-9 63 Q-9 69 -15 69 L-69 69 Q-75 69 -75 63 L-75 40 Q-75 34 -69 34 L-17 34 Z", "size": 4, "filled": true, "fill": "#5b8cff", "fillOpacity": 1, "stroke": "#3f9fa8", "strokeWidth": 1},
          "encoding": {"x": {"field": "t", "type": "temporal"}, "y": {"field": "p", "type": "quantitative"}}
        },
        {
          "data": {"values": [
            {"label": "EMA-9", "t": "2023-04-02T19:54Z", "p": 0.00027},
            {"label": "EMA-50", "t": "2023-04-02T06:00Z", "p": 0.0001683}
          ]},
          "mark": {"type": "text", "align": "center", "baseline": "middle", "fontSize": 12.5, "color": "#2a2e39"},
          "encoding": {"x": {"field": "t", "type": "temporal"}, "y": {"field": "p", "type": "quantitative"}, "text": {"field": "label"}}
        },
        {
          "data": {"values": [{"label": "Upper Resistance Area", "t": "2023-04-05T10:54Z", "p": 0.0002908}]},
          "mark": {"type": "text", "align": "center", "baseline": "middle", "fontSize": 13.6, "color": "#2a2e39"},
          "encoding": {"x": {"field": "t", "type": "temporal"}, "y": {"field": "p", "type": "quantitative"}, "text": {"field": "label"}}
        },
        {
          "data": {"values": [
            {"label": "bukky456 published on TradingView.com, Apr 06, 2023 06:26 UTC+1", "t": "2023-03-29T12:00Z", "p": 0.0003167, "tone": "dark"},
            {"label": "Lucky Block/Tether, 1h, GATEIO", "t": "2023-03-29T13:20Z", "p": 0.0002933, "tone": "grey"},
            {"label": "O", "t": "2023-03-30T18:48Z", "p": 0.0002933, "tone": "grey"},
            {"label": "0.0001840", "t": "2023-03-30T20:04Z", "p": 0.0002933, "tone": "teal"},
            {"label": "H", "t": "2023-03-31T06:26Z", "p": 0.0002933, "tone": "grey"},
            {"label": "0.0001843", "t": "2023-03-31T07:38Z", "p": 0.0002933, "tone": "teal"},
            {"label": "L", "t": "2023-03-31T18:06Z", "p": 0.0002933, "tone": "grey"},
            {"label": "0.0001836", "t": "2023-03-31T19:06Z", "p": 0.0002933, "tone": "teal"},
            {"label": "C", "t": "2023-04-01T05:18Z", "p": 0.0002933, "tone": "grey"},
            {"label": "0.0001842", "t": "2023-04-01T06:24Z", "p": 0.0002933, "tone": "teal"},
            {"label": "+0.0000001 (+0.05%)", "t": "2023-04-01T16:48Z", "p": 0.0002933, "tone": "teal"},
            {"label": "EMA (9, close)", "t": "2023-03-29T13:20Z", "p": 0.0002783, "tone": "grey"},
            {"label": "EMA (50, close, 0, EMA, 1)", "t": "2023-03-29T13:20Z", "p": 0.000265, "tone": "grey"}
          ]},
          "mark": {"type": "text", "align": "left", "baseline": "middle", "fontSize": 12},
          "encoding": {
            "x": {"field": "t", "type": "temporal"},
            "y": {"field": "p", "type": "quantitative"},
            "text": {"field": "label"},
            "color": {"field": "tone", "type": "nominal", "legend": null, "scale": {"domain": ["dark", "grey", "teal", "white", "pale"], "range": ["#50535e", "#787b86", "#26a69a", "#ffffff", "#d4edea"]}}
          }
        },
        {
          "data": {"values": [{"t": "2023-04-06T16:49Z", "t2": "2023-04-07T04:26Z", "p": 0.000295, "p2": 0.00028}]},
          "mark": {"type": "rect", "color": "#673ab7"},
          "encoding": {"x": {"field": "t", "type": "temporal"}, "x2": {"field": "t2"}, "y": {"field": "p", "type": "quantitative"}, "y2": {"field": "p2"}}
        },
        {
          "data": {"values": [{"label": "0.0002877", "t": "2023-04-06T18:18Z", "p": 0.0002877}]},
          "mark": {"type": "text", "align": "left", "baseline": "middle", "fontSize": 12, "fontWeight": "bold", "color": "white"},
          "encoding": {"x": {"field": "t", "type": "temporal"}, "y": {"field": "p", "type": "quantitative"}, "text": {"field": "label"}}
        },
        {
          "data": {"values": [{"t": "2023-04-06T16:52Z", "t2": "2023-04-07T04:26Z", "p": 0.000295, "p2": 0.00028}]},
          "mark": {"type": "rect", "fill": {"gradient": "linear", "x1": 0, "y1": 0, "x2": 0, "y2": 1, "stops": [{"offset": 0, "color": "rgba(255,255,255,1)"}, {"offset": 0.5, "color": "rgba(255,255,255,1)"}, {"offset": 1, "color": "rgba(255,255,255,0)"}]}},
          "encoding": {"x": {"field": "t", "type": "temporal"}, "x2": {"field": "t2"}, "y": {"field": "p", "type": "quantitative"}, "y2": {"field": "p2"}}
        },
        {
          "data": {"values": [{"t": "2023-04-06T16:49Z", "t2": "2023-04-07T04:26Z", "p": 0.0001908, "p2": 0.000165}]},
          "mark": {"type": "rect", "color": "#26a69a"},
          "encoding": {"x": {"field": "t", "type": "temporal"}, "x2": {"field": "t2"}, "y": {"field": "p", "type": "quantitative"}, "y2": {"field": "p2"}}
        },
        {
          "data": {"values": [
            {"label": "USDT", "t": "2023-04-06T18:18Z", "p": 0.0002942, "tone": "dark"},
            {"label": "0.0001842", "t": "2023-04-06T18:18Z", "p": 0.0001837, "tone": "white"},
            {"label": "33:17", "t": "2023-04-06T18:18Z", "p": 0.0001725, "tone": "pale"}
          ]},
          "mark": {"type": "text", "align": "left", "baseline": "middle", "fontSize": 12},
          "encoding": {
            "x": {"field": "t", "type": "temporal"},
            "y": {"field": "p", "type": "quantitative"},
            "text": {"field": "label"},
            "fontWeight": {"condition": {"test": "datum.tone == 'white'", "value": "bold"}, "value": "normal"},
            "color": {"field": "tone", "type": "nominal", "legend": null}
          }
        },
        {
          "data": {"values": [{"t": "2023-03-29T12:00Z", "t2": "2023-04-07T05:00Z", "p": 0.000135, "p2": 0.000135}]},
          "mark": {"type": "rule", "color": "#e0e3eb", "strokeWidth": 1},
          "encoding": {"x": {"field": "t", "type": "temporal"}, "x2": {"field": "t2"}, "y": {"field": "p", "type": "quantitative"}, "y2": {"field": "p2"}}
        },
        {
          "data": {"values": [
            {"t": "2023-03-29T11:50Z", "t2": "2023-04-07T05:00Z", "p": 0.0003067, "p2": 0.0003067},
            {"t": "2023-03-29T11:50Z", "t2": "2023-03-29T11:50Z", "p": 0.0003067, "p2": 0.000135},
            {"t": "2023-04-07T05:00Z", "t2": "2023-04-07T05:00Z", "p": 0.0003067, "p2": 0.000135}
          ]},
          "mark": {"type": "rule", "color": "#eef1f7", "strokeWidth": 2},
          "encoding": {"x": {"field": "t", "type": "temporal"}, "x2": {"field": "t2"}, "y": {"field": "p", "type": "quantitative"}, "y2": {"field": "p2"}}
        }
      ]
    },
    {
      "width": 1185,
      "height": 250,
      "layer": [
        {
          "data": {"values": [{"top": 80, "bottom": 20}]},
          "mark": {"type": "rect", "color": "#2196f3", "opacity": 0.11},
          "encoding": {
            "y": {"field": "top", "type": "quantitative", "scale": {"domain": [-10.05, 112.5], "nice": false, "zero": false},
              "axis": {"orient": "right", "values": [0, 20, 40, 60, 80, 100], "format": ".2f", "labelPadding": 9, "domainColor": "#50535e", "grid": true}},
            "y2": {"field": "bottom"}
          }
        },
        {
          "data": {"values": [{"level": 80}, {"level": 20}]},
          "mark": {"type": "rule", "color": "#787b86", "strokeWidth": 1, "strokeDash": [5, 4]},
          "encoding": {"y": {"field": "level", "type": "quantitative"}}
        },
        {
          "data": {"values": [{"level": 50}]},
          "mark": {"type": "rule", "color": "#b2b5be", "strokeWidth": 1, "strokeDash": [5, 4]},
          "encoding": {"y": {"field": "level", "type": "quantitative"}}
        },
        {
          "data": {"values": [{"level": 96.45}]},
          "mark": {"type": "rule", "color": "#673ab7", "strokeWidth": 3},
          "encoding": {"y": {"field": "level", "type": "quantitative"}}
        },
        {
          "data": {"name": "bars"},
          "mark": {"type": "line", "color": "#2962ff", "strokeWidth": 1},
          "encoding": {
            "x": {"field": "t", "type": "temporal", "scale": {"type": "utc", "domain": [1680091200000, 1680799740000]},
              "axis": {"values": [1680134400000, 1680220800000, 1680307200000, 1680393600000, 1680480000000, 1680566400000, 1680652800000, 1680739200000, 1680793200000],
                "labelExpr": "utchours(datum.value) == 15 ? '15:00' : utcdate(datum.value) == 1 ? 'Apr' : '' + utcdate(datum.value)",
                "labelFontWeight": {"condition": {"test": "utcdate(datum.value) == 1", "value": "bold"}, "value": "normal"},
                "labelPadding": 8, "domainColor": "#50535e", "grid": true}},
            "y": {"field": "k", "type": "quantitative"}
          }
        },
        {
          "data": {"name": "bars"},
          "mark": {"type": "line", "color": "#ff6d00", "strokeWidth": 1},
          "encoding": {"x": {"field": "t", "type": "temporal"}, "y": {"field": "d", "type": "quantitative"}}
        },
        {
          "data": {"values": [
            {"label": "Lower Support Area", "t": "2023-03-31T16:36Z", "v": 86.5},
            {"label": "Overbought Region", "t": "2023-04-05T19:00Z", "v": 88.7},
            {"label": "Oversold Region", "t": "2023-04-06T00:42Z", "v": 1.7}
          ]},
          "mark": {"type": "text", "align": "center", "baseline": "middle", "fontSize": 13.6, "color": "#2a2e39"},
          "encoding": {"x": {"field": "t", "type": "temporal"}, "y": {"field": "v", "type": "quantitative"}, "text": {"field": "label"}}
        },
        {
          "data": {"values": [{"label": "Stoch (14, 1, 3)", "t": "2023-03-29T13:20Z", "v": 105}]},
          "mark": {"type": "text", "align": "left", "baseline": "middle", "fontSize": 12, "color": "#787b86"},
          "encoding": {"x": {"field": "t", "type": "temporal"}, "y": {"field": "v", "type": "quantitative"}, "text": {"field": "label"}}
        },
        {
          "data": {"values": [{"t": "2023-04-06T16:49Z", "t2": "2023-04-07T00:18Z", "v": 100.7, "v2": 92.5}]},
          "mark": {"type": "rect", "color": "#673ab7"},
          "encoding": {"x": {"field": "t", "type": "temporal"}, "x2": {"field": "t2"}, "y": {"field": "v", "type": "quantitative"}, "y2": {"field": "v2"}}
        },
        {
          "data": {"values": [{"label": "96.45", "t": "2023-04-06T18:18Z", "v": 96.5}]},
          "mark": {"type": "text", "align": "left", "baseline": "middle", "fontSize": 12, "fontWeight": "bold", "color": "white"},
          "encoding": {"x": {"field": "t", "type": "temporal"}, "y": {"field": "v", "type": "quantitative"}, "text": {"field": "label"}}
        },
        {
          "data": {"values": [{"t": "2023-04-06T16:55Z", "t2": "2023-04-07T05:00Z", "v": -10.6, "v2": -23.2}]},
          "mark": {"type": "rect", "color": "white"},
          "encoding": {"x": {"field": "t", "type": "temporal"}, "x2": {"field": "t2"}, "y": {"field": "v", "type": "quantitative"}, "y2": {"field": "v2"}}
        },
        {
          "data": {"values": [
            {"t": "2023-03-29T11:50Z", "t2": "2023-04-07T05:00Z", "v": -23.3, "v2": -23.3},
            {"t": "2023-03-29T11:50Z", "t2": "2023-03-29T11:50Z", "v": 112.5, "v2": -23.3},
            {"t": "2023-04-07T05:00Z", "t2": "2023-04-07T05:00Z", "v": 112.5, "v2": -23.3}
          ]},
          "mark": {"type": "rule", "color": "#eef1f7", "strokeWidth": 2},
          "encoding": {"x": {"field": "t", "type": "temporal"}, "x2": {"field": "t2"}, "y": {"field": "v", "type": "quantitative"}, "y2": {"field": "v2"}}
        },
        {
          "data": {"values": [
            {"t": "2023-04-06T16:49Z", "t2": "2023-04-07T05:00Z", "v": -10.05, "v2": -10.05},
            {"t": "2023-04-06T16:49Z", "t2": "2023-04-06T16:49Z", "v": -10.05, "v2": -23.3}
          ]},
          "mark": {"type": "rule", "color": "#50535e", "strokeWidth": 1},
          "encoding": {"x": {"field": "t", "type": "temporal"}, "x2": {"field": "t2"}, "y": {"field": "v", "type": "quantitative"}, "y2": {"field": "v2"}}
        },
        {
          "data": {"values": [{"t": "2023-03-29T13:48Z", "v": -32}]},
          "mark": {"type": "point", "shape": "M-10 -4.5 H-1 V4.5 H-5 V-1 H-10 Z M1.5 -4.5 A2 2 0 1 1 1.4 -4.5 Z M9.5 -4.5 L5 4.5 H0.5 L5 -4.5 Z", "size": 4, "filled": true, "fill": "#131722", "fillOpacity": 1, "strokeWidth": 0},
          "encoding": {"x": {"field": "t", "type": "temporal"}, "y": {"field": "v", "type": "quantitative"}}
        },
        {
          "data": {"values": [{"label": "TradingView", "t": "2023-03-29T15:47Z", "v": -32}]},
          "mark": {"type": "text", "align": "left", "baseline": "middle", "fontSize": 13, "color": "#50535e"},
          "encoding": {"x": {"field": "t", "type": "temporal"}, "y": {"field": "v", "type": "quantitative"}, "text": {"field": "label"}}
        }
      ]
    }
  ]
}
